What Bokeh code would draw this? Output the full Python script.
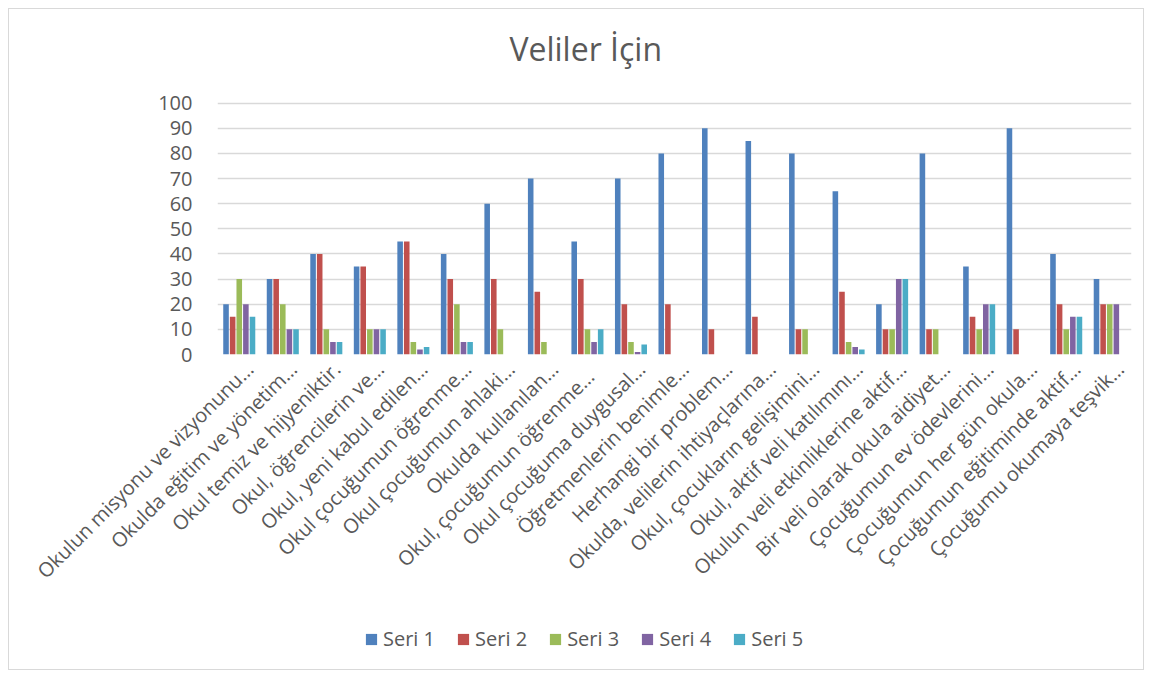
import math
from bokeh.plotting import figure
from bokeh.layouts import column
from bokeh.models import (Range1d, ColumnDataSource, Legend, LegendItem, FixedTicker,
                          LinearAxis, Label)
from bokeh.transform import dodge
from bokeh.embed import file_html
from bokeh.resources import INLINE

categories = [
    "Okulun misyonu ve vizyonunu…",
    "Okulda eğitim ve yönetim…",
    "Okul temiz ve hijyeniktir.",
    "Okul, öğrencilerin ve…",
    "Okul, yeni kabul edilen…",
    "Okul çocuğumun öğrenme…",
    "Okul çocuğumun ahlaki…",
    "Okulda kullanılan…",
    "Okul,  çocuğumun  öğrenme…",
    "Okul çocuğuma duygusal…",
    "Öğretmenlerin benimle…",
    "Herhangi bir problem…",
    "Okulda, velilerin ihtiyaçlarına…",
    "Okul, çocukların gelişimini…",
    "Okul, aktif veli katılımını…",
    "Okulun veli etkinliklerine aktif…",
    "Bir veli olarak okula aidiyet…",
    "Çocuğumun ev ödevlerini…",
    "Çocuğumun her gün okula…",
    "Çocuğumun eğitiminde aktif…",
    "Çocuğumu okumaya teşvik…",
]
seri1 = [20, 30, 40, 35, 45, 40, 60, 70, 45, 70, 80, 90, 85, 80, 65, 20, 80, 35, 90, 40, 30]
seri2 = [15, 30, 40, 35, 45, 30, 30, 25, 30, 20, 20, 10, 15, 10, 25, 10, 10, 15, 10, 20, 20]
seri3 = [30, 20, 10, 10, 5, 20, 10, 5, 10, 5, 0, 0, 0, 10, 5, 10, 10, 10, 0, 10, 20]
seri4 = [20, 10, 5, 10, 2, 5, 0, 0, 5, 1, 0, 0, 0, 0, 3, 30, 0, 20, 0, 15, 20]
seri5 = [15, 10, 5, 10, 3, 5, 0, 0, 10, 4, 0, 0, 0, 0, 2, 30, 0, 20, 0, 15, 0]
series_names = ["Seri 1", "Seri 2", "Seri 3", "Seri 4", "Seri 5"]
y_ticks = [0, 10, 20, 30, 40, 50, 60, 70, 80, 90, 100]
title_text = "Veliler İçin"

colors = ["#4F81BD", "#C0504D", "#9BBB59", "#8064A2", "#4BACC6"]
FONT = "Open Sans"
TXT = "#595959"
GRID = "#d9d9d9"

n = len(categories)
idx = list(range(n))
source = ColumnDataSource(dict(idx=idx, cat=categories, s1=seri1, s2=seri2, s3=seri3,
                               s4=seri4, s5=seri5))
keys = ["s1", "s2", "s3", "s4", "s5"]
offsets = [-0.304, -0.152, 0.0, 0.152, 0.304]

# main chart: the frame reaches up to the top so the title can sit inside it
p = figure(width=1134, height=608, x_range=Range1d(-0.5, n - 0.5), y_range=Range1d(0, 137.3),
           title=None, output_backend="svg", toolbar_location=None,
           min_border_left=208, min_border_right=12, min_border_top=0, min_border_bottom=263)
p.outline_line_color = None

for key, off, col in zip(keys, offsets, colors):
    p.vbar(x=dodge("idx", off), top=key, width=0.128, bottom=0,
           source=source, fill_color=col, line_color=None)

p.add_layout(Label(x=7.96, y=121.8, text=title_text, text_align="center",
                   text_baseline="middle", text_font=FONT, text_font_size="32px",
                   text_color=TXT))

p.xaxis.visible = False
p.xgrid.grid_line_color = None
p.ygrid.grid_line_color = GRID
p.ygrid.grid_line_width = 1.3

p.yaxis.ticker = FixedTicker(ticks=y_ticks)
p.yaxis.axis_line_color = None
p.yaxis.major_tick_line_color = None
p.yaxis.minor_tick_line_color = None
p.yaxis.major_label_standoff = 19
p.yaxis.major_label_text_font = FONT
p.yaxis.major_label_text_font_size = "20px"
p.yaxis.major_label_text_color = TXT

# category labels: an axis whose ticks sit slightly right of the bar groups, as in the original
shift = 0.24
p.extra_x_ranges = {"lab": Range1d(-0.5 - shift, n - 0.5 - shift)}
lab_axis = LinearAxis(x_range_name="lab", ticker=FixedTicker(ticks=idx),
                      major_label_overrides={i: c for i, c in zip(idx, categories)},
                      major_label_orientation=math.pi / 4,
                      axis_line_color=None, major_tick_line_color=None,
                      minor_tick_line_color=None, major_label_standoff=5,
                      major_label_text_font=FONT, major_label_text_font_size="20px",
                      major_label_text_color=TXT)
p.add_layout(lab_axis, "below")

# legend strip below the chart (same series, drawn out of view; only the legend shows)
leg = figure(width=1134, height=52, x_range=p.x_range, y_range=Range1d(1000, 1001),
             output_backend="svg", toolbar_location=None, min_border=0)
leg.axis.visible = False
leg.grid.visible = False
leg.outline_line_color = None
swatches = []
for key, off, col in zip(keys, offsets, colors):
    swatches.append(leg.vbar(x=dodge("idx", off), top=key, width=0.128, bottom=0,
                             source=source, fill_color=col, line_color=None))
legend = Legend(items=[LegendItem(label=nm, renderers=[r]) for nm, r in zip(series_names, swatches)],
                orientation="horizontal", location=(147, 17),
                glyph_width=14, glyph_height=14, label_standoff=5, spacing=21,
                padding=0, margin=0, border_line_color=None, background_fill_alpha=0,
                label_text_font=FONT, label_text_font_size="20px", label_text_color=TXT)
leg.add_layout(legend, "center")

layout = column(p, leg, spacing=0,
                styles={"border": "1px solid #d9d9d9", "margin": "8px"})

open("out.html", "w").write(file_html(layout, INLINE))
